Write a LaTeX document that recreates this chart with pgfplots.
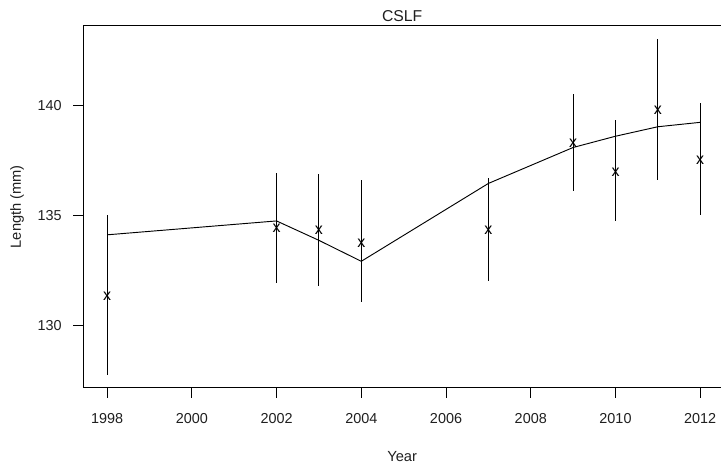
\documentclass[border=0pt]{standalone}
\usepackage{pgfplots}
\pgfplotsset{compat=1.18}
\usepackage{pgfplotstable}
\usepackage{fontspec}
\setmainfont{Liberation Sans}

% Observed mean length with asymmetric interval (upper/lower half-widths)
\pgfplotstableread{
year  len     ep    em
1998  131.36  3.65  3.59
2002  134.41  2.52  2.48
2003  134.33  2.57  2.50
2004  133.76  2.84  2.67
2007  134.32  2.39  2.30
2009  138.29  2.21  2.16
2010  136.98  2.36  2.24
2011  139.79  3.21  3.19
2012  137.49  2.63  2.44
}\obsdata

% Fitted trend
\pgfplotstableread{
year  fit
1998  134.13
2002  134.76
2003  133.88
2004  132.93
2007  136.46
2009  138.09
2010  138.60
2011  139.03
2012  139.23
}\fitdata

\newcommand{\tickfont}{\fontsize{10.8}{12}\selectfont}
\newcommand{\labfont}{\fontsize{11}{13}\selectfont}
\newcommand{\titfont}{\fontsize{11.8}{14}\selectfont}
\newcommand{\markfont}{\fontsize{12}{14}\selectfont}

\begin{document}
\begin{tikzpicture}
\begin{axis}[
  name=ax,
  scale only axis,
  width=478.3pt, height=271.5pt,
  xmin=1997.44, xmax=2012.49,
  ymin=127.20, ymax=143.61,
  axis x line*=bottom, axis y line*=left,
  axis line style={line width=0.9pt, black},
  xtick={1998,2000,...,2012},
  ytick={130,135,140},
  tick align=outside,
  major tick length=7.5pt,
  tick style={line width=0.75pt, black},
  /pgf/number format/assume math mode=true,
  xticklabel={\pgfmathprintnumber[1000 sep=]{\tick}},
  ticklabel style={font=\tickfont, text=black!88},
  xticklabel style={yshift=-8.2pt},
  yticklabel style={xshift=-5.2pt},
  every axis title/.style={font=\titfont, text=black!88, at={(axis description cs:0.5,1)}, anchor=base, yshift=3.5pt},
  every axis x label/.style={font=\labfont, text=black!88, at={(axis description cs:0.5,0)}, anchor=center, yshift=-51.75pt},
  every axis y label/.style={font=\labfont, text=black!88, at={(axis description cs:-0.1039,0.5)}, rotate=90, anchor=center},
  title={CSLF},
  xlabel={Year},
  ylabel={Length (mm)},
  clip=false,
]
  % fitted trend line
  \addplot[black, line width=0.7pt, mark=none] table[x=year, y=fit] {\fitdata};
  % observed means with intervals
  \addplot[only marks, black!88, mark=text, text mark={\markfont x},
    error bars/.cd, y dir=both, y explicit, error mark=none,
    error bar style={line width=0.75pt, black}]
    table[x=year, y=len, y error plus=ep, y error minus=em] {\obsdata};
  % top edge of the frame
  \draw[line width=0.9pt, black] (rel axis cs:0,1) -- (rel axis cs:1,1);
\end{axis}
\pgfresetboundingbox
\path[use as bounding box] ([xshift=-62.5pt, yshift=-58.7pt]ax.south west) rectangle ([yshift=19.3pt]ax.north east);
\end{tikzpicture}
\end{document}
